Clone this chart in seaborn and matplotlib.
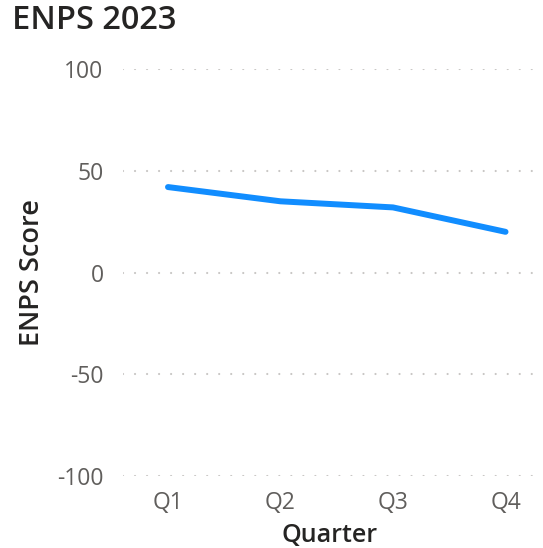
import matplotlib
matplotlib.use("Agg")
import matplotlib.pyplot as plt
import seaborn as sns
import pandas as pd

quarters = ["Q1", "Q2", "Q3", "Q4"]
enps = [42, 35, 32, 20]
yticks = [-100, -50, 0, 50, 100]

df = pd.DataFrame({"Quarter": quarters, "ENPS Score": enps})

sns.set_theme(style="white")
plt.rcParams['font.family'] = ['Open Sans', 'DejaVu Sans']

fig = plt.figure(figsize=(5.43, 5.48), dpi=100)
ax = fig.add_axes([0.2265, 0.1314, 0.7625, 0.7426])

sns.lineplot(data=df, x="Quarter", y="ENPS Score", ax=ax, color="#118DFF",
             linewidth=4.3, solid_capstyle="round", solid_joinstyle="round",
             sort=False)
for l in ax.lines:
    l.set_clip_on(False)

ax.set_ylim(-100, 100)
ax.set_xlim(-0.4, 3.28)
ax.set_yticks(yticks)
ax.set_yticklabels([str(v) for v in yticks])
for y in yticks:
    ax.axhline(y, color="#C8C6C4", linewidth=1.6, linestyle=(0, (0.01, 5.4)),
               dash_capstyle="round", zorder=0)

for s in ax.spines.values():
    s.set_visible(False)
ax.tick_params(axis="both", length=0, labelsize=16.5, labelcolor="#605E5C")
ax.tick_params(axis="y", pad=14)
ax.tick_params(axis="x", pad=11)

ax.set_xlabel("Quarter", fontsize=18, color="#252423", labelpad=5.5,
              fontweight="semibold")
ax.set_ylabel("ENPS Score", fontsize=19.5, color="#252423", labelpad=8,
              fontweight="semibold")
ax.grid(False)

fig.text(0.022, 0.962, "ENPS 2023", fontsize=23.5, color="#252423",
         ha="left", va="center", fontweight="semibold")

fig.savefig("out.png", dpi=100)
